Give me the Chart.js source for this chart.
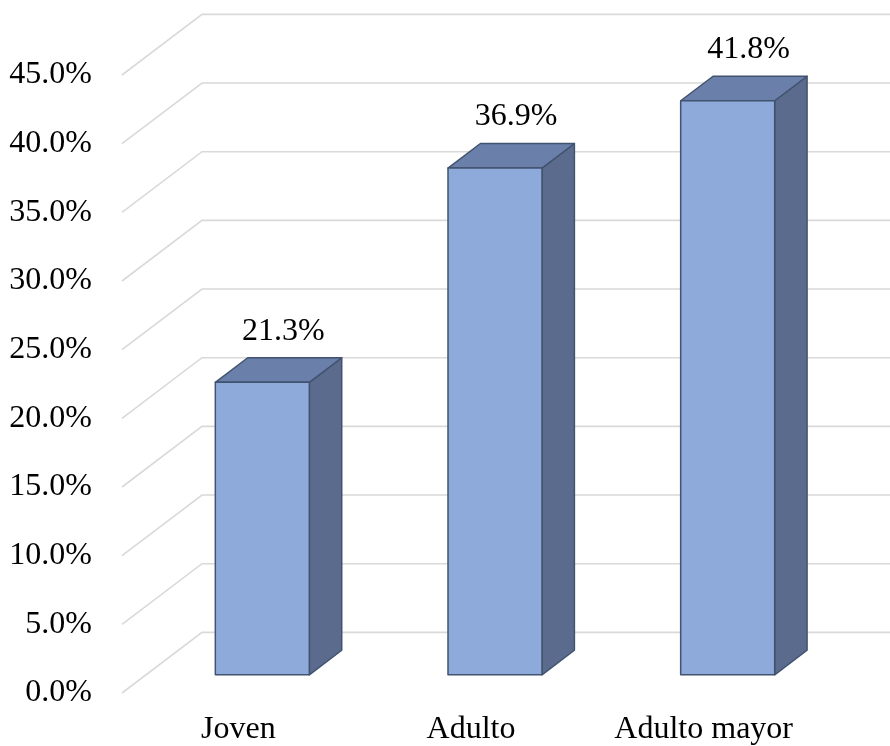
<!DOCTYPE html>
<html>
<head>
<meta charset="utf-8">
<title>Grupo de edad</title>
<script src="https://cdn.jsdelivr.net/npm/chart.js"></script>
<style>
  body { margin: 0; background: #fff; }
</style>
</head>
<body>
<canvas id="chart" width="890" height="746"></canvas>
<script>
const categories = ['Joven', 'Adulto', 'Adulto mayor'];
const percentages = [21.3, 36.9, 41.8];
const axisMax = 45;
const axisStep = 5;

// 3d look: offset between the front plane and the back wall, in px
const wallDepth = { x: 80, y: -60.6 };
const barFront = 0.3;    // where the bar front sits, as part of the wall depth
const barDepth = 0.405;  // bar thickness, as part of the wall depth

const serif = '"Liberation Serif", "Times New Roman", serif';

const wall3d = {
    id: 'wall3d',
    beforeDatasetsDraw(chart) {
        const ctx = chart.ctx;
        const y = chart.scales.y;
        const area = chart.chartArea;
        ctx.save();
        ctx.strokeStyle = '#d9d9d9';
        ctx.lineWidth = 1.6;
        y.ticks.forEach(t => {
            const py = y.getPixelForValue(t.value);
            ctx.beginPath();
            ctx.moveTo(area.left, py);
            ctx.lineTo(area.left + wallDepth.x, py + wallDepth.y);
            ctx.lineTo(area.right + wallDepth.x + 20, py + wallDepth.y);
            ctx.stroke();
        });
        ctx.restore();
    }
};

const bars3d = {
    id: 'bars3d',
    afterDatasetsDraw(chart) {
        const ctx = chart.ctx;
        const meta = chart.getDatasetMeta(0);
        const fx = wallDepth.x * barFront, fy = wallDepth.y * barFront;
        const dx = wallDepth.x * barDepth, dy = wallDepth.y * barDepth;

        function poly(pts, fill) {
            ctx.beginPath();
            ctx.moveTo(pts[0][0], pts[0][1]);
            for (let k = 1; k < pts.length; k++) ctx.lineTo(pts[k][0], pts[k][1]);
            ctx.closePath();
            ctx.fillStyle = fill;
            ctx.fill();
            ctx.stroke();
        }

        ctx.save();
        ctx.lineJoin = 'round';
        ctx.lineWidth = 1.5;
        ctx.strokeStyle = '#41536f';
        meta.data.forEach((bar, i) => {
            const p = bar.getProps(['x', 'y', 'base', 'width'], true);
            const l = p.x - p.width / 2 + fx, r = p.x + p.width / 2 + fx;
            const t = p.y + fy, b = p.base + fy;
            poly([[r, b], [r + dx, b + dy], [r + dx, t + dy], [r, t]], '#5b6b8d'); // side
            poly([[l, t], [l + dx, t + dy], [r + dx, t + dy], [r, t]], '#6a7fa9'); // top
            poly([[l, t], [r, t], [r, b], [l, b]], '#8eaadb');                     // front

            ctx.fillStyle = '#000';
            ctx.font = '32px ' + serif;
            ctx.textAlign = 'center';
            ctx.textBaseline = 'middle';
            ctx.fillText(percentages[i].toFixed(1) + '%', p.x + 45, t - 51);
        });
        ctx.restore();
    }
};

const ctx = document.getElementById('chart').getContext('2d');
new Chart(ctx, {
    type: 'bar',
    data: {
        labels: categories,
        datasets: [{
            data: percentages,
            backgroundColor: 'rgba(0,0,0,0)',
            borderWidth: 0,
            barPercentage: 0.404,
            categoryPercentage: 1
        }]
    },
    options: {
        responsive: false,
        animation: false,
        layout: { padding: { top: 75, right: 70, left: 0, bottom: 0 } },
        plugins: {
            legend: { display: false },
            tooltip: { enabled: false }
        },
        scales: {
            y: {
                min: 0,
                max: axisMax,
                afterFit: s => { s.width = 122; },
                grid: { display: false, drawTicks: false },
                border: { display: false },
                ticks: {
                    stepSize: axisStep,
                    padding: 30,
                    color: '#000',
                    font: { family: serif, size: 32 },
                    callback: v => v.toFixed(1) + '%'
                }
            },
            x: {
                afterFit: s => { s.height = 53; },
                grid: { display: false, drawTicks: false },
                border: { display: false },
                ticks: {
                    padding: 17,
                    color: '#000',
                    font: { family: serif, size: 32 }
                }
            }
        }
    },
    plugins: [wall3d, bars3d]
});
</script>
</body>
</html>
